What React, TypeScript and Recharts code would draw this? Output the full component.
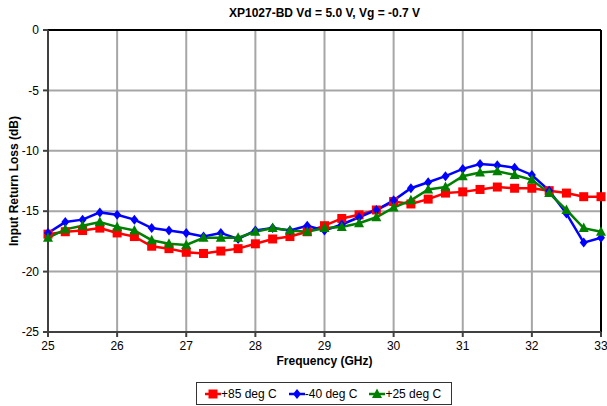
import { LineChart, Line, XAxis, YAxis, CartesianGrid, ReferenceLine } from 'recharts';

// frequency points, GHz (0.25 GHz steps)
const freqs = [
  25, 25.25, 25.5, 25.75, 26, 26.25, 26.5, 26.75, 27, 27.25, 27.5, 27.75, 28, 28.25, 28.5, 28.75,
  29, 29.25, 29.5, 29.75, 30, 30.25, 30.5, 30.75, 31, 31.25, 31.5, 31.75, 32, 32.25, 32.5, 32.75, 33,
];

// input return loss, dB
const hot85 = [
  -16.9, -16.7, -16.6, -16.4, -16.8, -17.1, -17.9, -18.1, -18.4, -18.5, -18.3, -18.1, -17.7, -17.3, -17.1, -16.7,
  -16.2, -15.6, -15.3, -14.9, -14.2, -14.4, -14.0, -13.5, -13.4, -13.2, -13.0, -13.1, -13.1, -13.3, -13.5, -13.8, -13.8,
];
const cold40 = [
  -16.8, -15.9, -15.7, -15.1, -15.3, -15.7, -16.4, -16.6, -16.8, -17.1, -16.8, -17.3, -16.6, -16.4, -16.6, -16.2,
  -16.6, -16.1, -15.5, -14.9, -14.1, -13.1, -12.6, -12.1, -11.5, -11.1, -11.2, -11.4, -12.0, -13.3, -15.2, -17.6, -17.2,
];
const room25 = [
  -17.2, -16.5, -16.2, -15.9, -16.3, -16.6, -17.4, -17.7, -17.8, -17.2, -17.2, -17.2, -16.7, -16.4, -16.6, -16.7,
  -16.4, -16.3, -16.0, -15.5, -14.7, -14.1, -13.2, -13.0, -12.1, -11.8, -11.7, -12.0, -12.4, -13.5, -14.9, -16.4, -16.7,
];

const xTicks = [25, 26, 27, 28, 29, 30, 31, 32, 33];
const yTicks = [-25, -20, -15, -10, -5, 0];

const series = [
  { key: 'hot85', name: '+85 deg C', color: '#ff0000', marker: 'square' },
  { key: 'cold40', name: '-40 deg C', color: '#0000ff', marker: 'diamond' },
  { key: 'room25', name: '+25 deg C', color: '#008000', marker: 'triangle' },
];

const data = freqs.map((f, i) => ({ f, hot85: hot85[i], cold40: cold40[i], room25: room25[i] }));

const FONT = '"Liberation Sans", Arial, sans-serif';

function Marker({ cx, cy, type, color }: { cx: number; cy: number; type: string; color: string }) {
  if (cx == null || cy == null) return null;
  if (type === 'square') {
    return <rect x={cx - 4.5} y={cy - 4.5} width={9} height={9} fill={color} />;
  }
  if (type === 'diamond') {
    return <polygon points={`${cx},${cy - 5} ${cx + 4},${cy} ${cx},${cy + 5} ${cx - 4},${cy}`} fill={color} />;
  }
  return <polygon points={`${cx},${cy - 5.5} ${cx + 5},${cy + 4} ${cx - 5},${cy + 4}`} fill={color} />;
}

function LegendIcon({ type, color }: { type: string; color: string }) {
  return (
    <svg width={16} height={12} style={{ display: 'block' }}>
      <line x1={0} y1={6} x2={16} y2={6} stroke={color} strokeWidth={2.5} />
      <Marker cx={8} cy={6} type={type} color={color} />
    </svg>
  );
}

export default function App() {
  return (
    <div style={{ position: 'absolute', left: 0, top: 0, width: 607, height: 406, background: '#fff', fontFamily: FONT }}>
      <div
        style={{
          position: 'absolute', left: 48, width: 553, top: 6, textAlign: 'center',
          fontSize: 12, fontWeight: 'bold', color: '#000',
        }}
      >
        XP1027-BD Vd = 5.0 V, Vg = -0.7 V
      </div>
      <LineChart width={607} height={406} data={data} margin={{ top: 30, right: 6, bottom: 0, left: 0 }}>
        <CartesianGrid stroke="#a6a6a6" strokeWidth={2} />
        <XAxis
          dataKey="f"
          type="number"
          domain={[25, 33]}
          ticks={xTicks}
          interval={0}
          height={74}
          stroke="#404040"
          strokeWidth={2}
          tickSize={5}
          tickMargin={4}
          tick={{ fill: '#000', fontSize: 12, fontFamily: FONT }}
          label={{ value: 'Frequency (GHz)', position: 'insideTop', offset: 24, fill: '#000', fontSize: 12, fontWeight: 'bold', fontFamily: FONT }}
        />
        <YAxis
          type="number"
          domain={[-25, 0]}
          ticks={yTicks}
          interval={0}
          width={48}
          stroke="#404040"
          strokeWidth={2}
          tickSize={5}
          tickMargin={4}
          tick={{ fill: '#000', fontSize: 12, fontFamily: FONT }}
          label={{
            content: ({ viewBox }: any) => {
              const cy = viewBox.y + viewBox.height / 2;
              return (
                <text
                  x={14}
                  y={cy}
                  transform={`rotate(-90, 14, ${cy})`}
                  textAnchor="middle"
                  dominantBaseline="central"
                  fontSize={12}
                  fontWeight="bold"
                  fontFamily={FONT}
                  fill="#000"
                >
                  Input Return Loss (dB)
                </text>
              );
            },
          }}
        />
        <ReferenceLine x={33} stroke="#000" strokeWidth={2} />
        <ReferenceLine y={0} stroke="#000" strokeWidth={2} />
        {series.map((s) => (
          <Line
            key={s.key}
            dataKey={s.key}
            name={s.name}
            stroke={s.color}
            strokeWidth={2.5}
            isAnimationActive={false}
            dot={(p: any) => <Marker key={`${s.key}-${p.index}`} cx={p.cx} cy={p.cy} type={s.marker} color={s.color} />}
            activeDot={false}
          />
        ))}
      </LineChart>
      <div
        style={{
          position: 'absolute', left: 196, top: 382, width: 256, height: 23,
          border: '1px solid #333', boxSizing: 'border-box', display: 'flex',
          alignItems: 'center', gap: 12, fontSize: 12, color: '#000', paddingLeft: 8,
        }}
      >
        {series.map((s) => (
          <span key={s.key} style={{ display: 'flex', alignItems: 'center', whiteSpace: 'nowrap' }}>
            <LegendIcon type={s.marker} color={s.color} />
            <span>{s.name}</span>
          </span>
        ))}
      </div>
    </div>
  );
}
